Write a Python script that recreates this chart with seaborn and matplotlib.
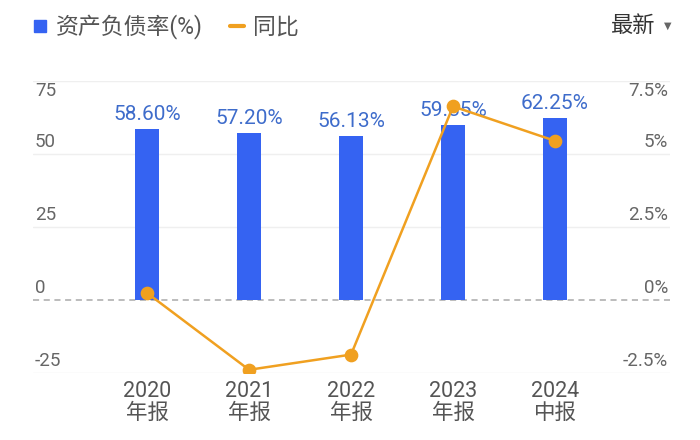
import matplotlib
matplotlib.use("Agg")
import matplotlib.pyplot as plt
import matplotlib.transforms as mtrans
from matplotlib.lines import Line2D
import seaborn as sns
import pandas as pd

categories = ["2020\n年报", "2021\n年报", "2022\n年报", "2023\n年报", "2024\n中报"]
ratio = [58.60, 57.20, 56.13, 59.85, 62.25]
yoy = [0.24, -2.39, -1.87, 6.63, 5.45]
left_ticks = [75, 50, 25, 0, -25]
left_tick_labels = ["75", "50", "25", "0", "-25"]
right_ticks = [7.5, 5, 2.5, 0, -2.5]
right_tick_labels = ["7.5%", "5%", "2.5%", "0%", "-2.5%"]
legend_labels = ["资产负债率(%)", "同比"]

sns.set_theme(style="white")
FAM = ["Roboto", "Noto Sans CJK SC", "DejaVu Sans"]
plt.rcParams["font.family"] = FAM

BLUE = "#3563F2"
LABEL_BLUE = "#3E6CCB"
ORANGE = "#F0A020"
GRAY = "#666666"

df = pd.DataFrame({"cat": categories, "ratio": ratio, "yoy": yoy})

fig = plt.figure(figsize=(7, 4.4), dpi=100)
ax = fig.add_axes([33 / 700, 1 - 373 / 440, (670 - 33) / 700, (373 - 81) / 440])

sns.barplot(data=df, x="cat", y="ratio", color=BLUE, width=0.235, ax=ax,
            saturation=1, zorder=3)
for p in ax.patches:
    p.set_edgecolor("none")

ax.set_ylim(-25, 75)
xl = (-1.118, 5.127)

# grid lines
for t in left_ticks:
    if t == 0:
        ax.axhline(0, color="#AAAAAA", lw=1.1, ls=(0, (4, 3)), zorder=1)
    else:
        ax.axhline(t, color="#EFEFEF", lw=1, zorder=1)

# bar labels
for i, v in enumerate(ratio):
    ax.text(i, v + 3.0, f"{v:.2f}%", ha="center", va="baseline", color=LABEL_BLUE,
            fontsize=15, zorder=4)

ax2 = ax.twinx()
sns.pointplot(data=df, x="cat", y="yoy", color=ORANGE, ax=ax2, markers="o",
              markersize=8.5, linewidth=1.8, zorder=5)
ax2.set_ylim(-2.5, 7.5)

for a in (ax, ax2):
    a.set_yticks([])
    a.set_xlabel("")
    a.set_ylabel("")
    for s in a.spines.values():
        s.set_visible(False)

ax.set_xlim(*xl)
ax2.set_xlim(*xl)
ax.set_xticks(range(len(categories)))
ax.set_xticklabels(categories, fontsize=15.5, color="#555555", linespacing=1.05)
ax.tick_params(axis="x", length=0, pad=6, labelbottom=True)
ax2.tick_params(axis="x", length=0, labelbottom=False, labeltop=False)

# y tick labels inside the plot, near grid lines
tl = mtrans.blended_transform_factory(ax.transAxes, ax.transData)
for t, lab in zip(left_ticks, left_tick_labels):
    if t == max(left_ticks):
        ax.text(0.003, t - 0.3, lab, transform=tl, ha="left", va="top",
                fontsize=13.5, color=GRAY, zorder=6)
    else:
        ax.text(0.003, t + 1.0, lab, transform=tl, ha="left", va="bottom",
                fontsize=13.5, color=GRAY, zorder=6)
tr = mtrans.blended_transform_factory(ax2.transAxes, ax2.transData)
for t, lab in zip(right_ticks, right_tick_labels):
    if t == max(right_ticks):
        ax2.text(0.997, t - 0.03, lab, transform=tr, ha="right", va="top",
                 fontsize=13.5, color=GRAY, zorder=6)
    else:
        ax2.text(0.997, t + 0.10, lab, transform=tr, ha="right", va="bottom",
                 fontsize=13.5, color=GRAY, zorder=6)

# legend
handles = [
    Line2D([], [], marker="s", color=BLUE, ls="none", markersize=8),
    Line2D([], [], color=ORANGE, lw=3),
]
leg = fig.legend(handles, legend_labels, loc="center left",
                 bbox_to_anchor=(12 / 700, 1 - 27 / 440), ncol=2, frameon=False,
                 fontsize=16.5, handlelength=0.6, handletextpad=0.4,
                 columnspacing=1.2, labelcolor="#555555")

fig.text(655 / 700, 1 - 26 / 440, "最新", ha="right", va="center",
         fontsize=16, color="#333333",
         family=["Noto Sans CJK SC", "DejaVu Sans"])
fig.text(668 / 700, 1 - 26 / 440, "▼", ha="center", va="center",
         fontsize=7, color="#666666", family=["DejaVu Sans"])

fig.savefig("out.png", dpi=100, facecolor="white")
